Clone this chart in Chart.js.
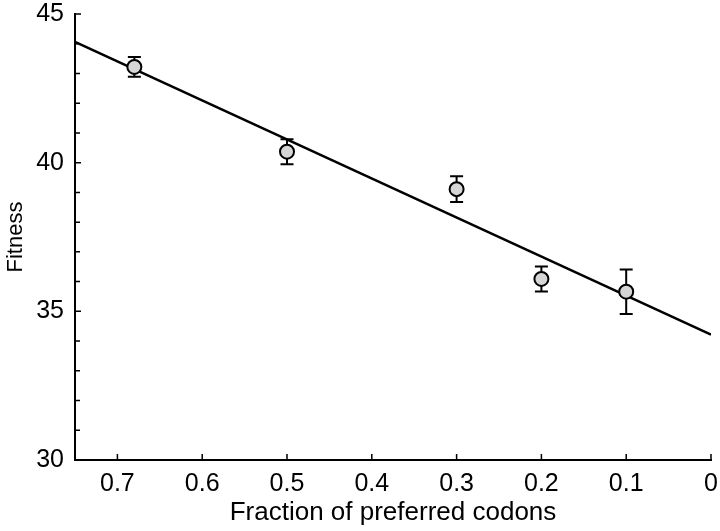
<!DOCTYPE html>
<html>
<head>
<meta charset="utf-8">
<script src="https://cdn.jsdelivr.net/npm/chart.js@4"></script>
<style>
  html, body { margin: 0; padding: 0; background: #fff; }
</style>
</head>
<body>
<canvas id="fitnessChart" width="720" height="531"></canvas>
<script>
// values
const codonFraction = [0.68, 0.5, 0.3, 0.2, 0.1];
const fitness = [43.22, 40.37, 39.11, 36.09, 35.66];
const fitnessErr = [0.33, 0.42, 0.43, 0.42, 0.75];
const fitLineX = [0.75, 0];
const fitLineY = [44.06, 34.22];

const FONT = '"Liberation Sans", Arial, Helvetica, sans-serif';

// error bars go under the circles
const errorBarPlugin = {
  id: 'errorBars',
  beforeDatasetDraw(chart, args) {
    if (args.index !== 0) return;
    const { ctx, scales: { x, y } } = chart;
    ctx.save();
    ctx.strokeStyle = '#000';
    ctx.lineWidth = 2;
    codonFraction.forEach((fx, i) => {
      const px = x.getPixelForValue(fx);
      const top = y.getPixelForValue(fitness[i] + fitnessErr[i]);
      const bot = y.getPixelForValue(fitness[i] - fitnessErr[i]);
      ctx.beginPath();
      ctx.moveTo(px, top); ctx.lineTo(px, bot);
      ctx.moveTo(px - 6.5, top); ctx.lineTo(px + 6.5, top);
      ctx.moveTo(px - 6.5, bot); ctx.lineTo(px + 6.5, bot);
      ctx.stroke();
    });
    ctx.restore();
  }
};

// tick marks point inward, so draw them by hand
const innerTicksPlugin = {
  id: 'innerTicks',
  afterDraw(chart) {
    const { ctx, chartArea, scales: { x, y } } = chart;
    ctx.save();
    ctx.strokeStyle = '#000';
    ctx.lineWidth = 1.5;
    ctx.beginPath();
    x.ticks.forEach(t => {
      const px = x.getPixelForValue(t.value);
      ctx.moveTo(px, chartArea.bottom);
      ctx.lineTo(px, chartArea.bottom - 6);
    });
    y.ticks.forEach(t => {
      const py = y.getPixelForValue(t.value);
      const len = t.value % 5 === 0 ? 6 : 5;
      ctx.moveTo(chartArea.left, py);
      ctx.lineTo(chartArea.left + len, py);
    });
    ctx.stroke();
    ctx.restore();
  }
};

const ctx = document.getElementById('fitnessChart').getContext('2d');
new Chart(ctx, {
  type: 'scatter',
  data: {
    datasets: [
      {
        label: 'Fitness',
        data: codonFraction.map((v, i) => ({ x: v, y: fitness[i] })),
        pointRadius: 7,
        pointHoverRadius: 7,
        pointBackgroundColor: '#d6d6d6',
        pointBorderColor: '#000',
        pointBorderWidth: 2,
        order: 0
      },
      {
        type: 'line',
        label: 'Fit',
        data: fitLineX.map((v, i) => ({ x: v, y: fitLineY[i] })),
        borderColor: '#000',
        borderWidth: 2.5,
        pointRadius: 0,
        fill: false,
        order: 1
      }
    ]
  },
  options: {
    responsive: false,
    animation: false,
    devicePixelRatio: 1,
    layout: { padding: 0 },
    plugins: {
      legend: { display: false },
      tooltip: { enabled: false }
    },
    scales: {
      x: {
        type: 'linear',
        reverse: true,
        min: 0,
        max: 0.75,
        grid: { display: false, drawTicks: false },
        border: { display: true, color: '#000', width: 2 },
        ticks: {
          stepSize: 0.1,
          includeBounds: false,
          padding: 9,
          color: '#000',
          font: { family: FONT, size: 25 },
          maxRotation: 0,
          callback: v => v === 0 ? '0' : v.toFixed(1)
        },
        title: {
          display: true,
          text: 'Fraction of preferred codons',
          color: '#000',
          font: { family: FONT, size: 26 },
          padding: { top: 0, bottom: 3 }
        },
        afterFit: s => {
          s.height = 71;
          s.paddingLeft = 0;
          s.paddingRight = 8;
        }
      },
      y: {
        type: 'linear',
        min: 30,
        max: 45,
        grid: { display: false, drawTicks: false },
        border: { display: true, color: '#000', width: 2 },
        ticks: {
          stepSize: 1,
          autoSkip: false,
          padding: 11,
          color: '#000',
          font: { family: FONT, size: 25 },
          callback: v => v % 5 === 0 ? String(v) : ''
        },
        title: {
          display: true,
          text: 'Fitness',
          color: '#000',
          font: { family: FONT, size: 22 },
          padding: { top: 3, bottom: 0 }
        },
        afterFit: s => {
          s.width = 75;
          s.paddingTop = 14;
          s.paddingBottom = 0;
        }
      }
    }
  },
  plugins: [errorBarPlugin, innerTicksPlugin]
});
</script>
</body>
</html>
